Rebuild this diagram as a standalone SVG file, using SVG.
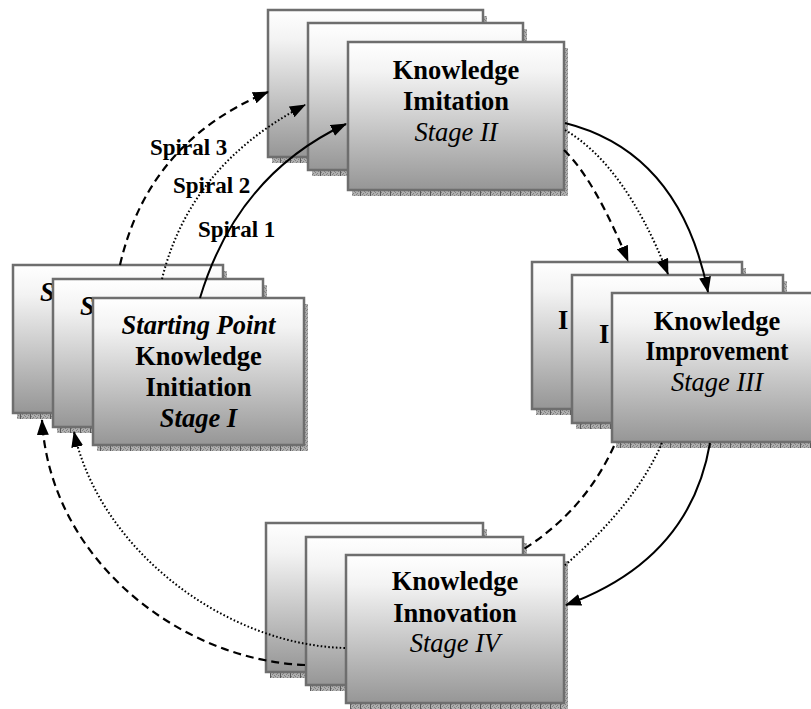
<svg xmlns="http://www.w3.org/2000/svg" width="811" height="709" viewBox="0 0 811 709">
  <defs>
    <linearGradient id="boxFill" x1="0" y1="0" x2="0" y2="1">
      <stop offset="0" stop-color="#ffffff"/>
      <stop offset="0.2" stop-color="#f3f3f3"/>
      <stop offset="1" stop-color="#969696"/>
    </linearGradient>
    <pattern id="shadowTex" width="10" height="4" patternUnits="userSpaceOnUse">
      <rect width="10" height="4" fill="#b0b0b0"/>
      <rect x="1" y="0" width="1" height="1" fill="#808080"/>
      <rect x="3" y="1" width="1" height="1" fill="#808080"/>
      <rect x="5" y="0" width="1" height="1" fill="#808080"/>
      <rect x="7" y="1" width="1" height="1" fill="#808080"/>
      <rect x="2" y="2" width="1" height="1" fill="#808080"/>
      <rect x="6" y="2" width="1" height="1" fill="#808080"/>
      <rect x="4" y="3" width="1" height="1" fill="#808080"/>
      <rect x="8" y="3" width="1" height="1" fill="#808080"/>
      <rect x="0" y="0" width="1" height="4" fill="#5a5a5a"/>
    </pattern>
    <marker id="arrow" viewBox="0 0 16 12" refX="15" refY="6" markerWidth="16" markerHeight="12" markerUnits="userSpaceOnUse" orient="auto">
      <path d="M0,0 L16,6 L0,12 Z" fill="#000"/>
    </marker>
  </defs>
  <style>
    .shadow { fill: url(#shadowTex); }
    .face { fill: url(#boxFill); stroke: #6e6e6e; stroke-width: 2.5; }
    .t { font-family: "Liberation Serif", "Times New Roman", serif; font-size: 26.5px; text-anchor: middle; fill: #000; }
    .s { text-anchor: start; }
    .b { font-weight: bold; }
    .i { font-style: italic; }
    .lbl { font-family: "Liberation Serif", "Times New Roman", serif; font-size: 23px; font-weight: bold; fill: #000; }
    .conn path { fill: none; stroke: #000; }
    .conn .arr { marker-end: url(#arrow); }
    .solid { stroke-width: 2; }
    .dash { stroke-width: 2.2; stroke-dasharray: 8 5; }
    .dot { stroke-width: 2; stroke-dasharray: 1.6 2.2; }
  </style>

  <rect width="811" height="709" fill="#ffffff"/>

  <!-- Stage II stack (top) -->
  <g id="imitation-back">
    <rect class="shadow" x="272" y="16" width="215" height="147"/>
    <rect class="face" x="268" y="10" width="215" height="147"/>
  </g>
  <g id="imitation-middle">
    <rect class="shadow" x="312" y="29" width="215" height="147"/>
    <rect class="face" x="308" y="23" width="215" height="147"/>
  </g>
  <g id="imitation">
    <rect class="shadow" x="352" y="48" width="216" height="148"/>
    <rect class="face" x="348" y="42" width="216" height="148"/>
    <text class="t b" x="456" y="79">Knowledge</text>
    <text class="t b" x="456" y="110">Imitation</text>
    <text class="t i" x="456" y="141">Stage II</text>
  </g>

  <!-- Stage I stack (left) -->
  <g id="initiation-back">
    <rect class="shadow" x="17" y="271" width="210" height="148"/>
    <rect class="face" x="13" y="265" width="210" height="148"/>
    <text class="t b i s" x="40" y="301">S</text>
  </g>
  <g id="initiation-middle">
    <rect class="shadow" x="57" y="285" width="210" height="148"/>
    <rect class="face" x="53" y="279" width="210" height="148"/>
    <text class="t b i s" x="80" y="315">S</text>
  </g>
  <g id="initiation">
    <rect class="shadow" x="97" y="304" width="211" height="147"/>
    <rect class="face" x="93" y="298" width="211" height="147"/>
    <text class="t b i" x="198.5" y="334">Starting Point</text>
    <text class="t b" x="198.5" y="365">Knowledge</text>
    <text class="t b" x="198.5" y="396">Initiation</text>
    <text class="t b i" x="198.5" y="427">Stage I</text>
  </g>

  <!-- Stage III stack (right) -->
  <g id="improvement-back">
    <rect class="shadow" x="536" y="268" width="210" height="147"/>
    <rect class="face" x="532" y="262" width="210" height="147"/>
    <text class="t b s" x="558" y="329">I</text>
  </g>
  <g id="improvement-middle">
    <rect class="shadow" x="576" y="281" width="211" height="148"/>
    <rect class="face" x="572" y="275" width="211" height="148"/>
    <text class="t b s" x="599" y="343">I</text>
  </g>
  <g id="improvement">
    <rect class="shadow" x="616" y="299" width="210" height="149"/>
    <rect class="face" x="612" y="293" width="210" height="149"/>
    <text class="t b" x="717" y="330">Knowledge</text>
    <text class="t b" x="717" y="360" textLength="143" lengthAdjust="spacingAndGlyphs">Improvement</text>
    <text class="t i" x="717" y="391">Stage III</text>
  </g>

  <!-- Stage IV stack (bottom) -->
  <g id="innovation-back">
    <rect class="shadow" x="270" y="529" width="217" height="149"/>
    <rect class="face" x="266" y="523" width="217" height="149"/>
  </g>
  <g id="innovation-middle">
    <rect class="shadow" x="310" y="543" width="217" height="148"/>
    <rect class="face" x="306" y="537" width="217" height="148"/>
  </g>
  <g id="innovation">
    <rect class="shadow" x="350" y="561" width="218" height="148"/>
    <rect class="face" x="346" y="555" width="218" height="148"/>
    <text class="t b" x="455" y="590">Knowledge</text>
    <text class="t b" x="455" y="622">Innovation</text>
    <text class="t i" x="455" y="652">Stage IV</text>
  </g>

  <!-- spiral connectors -->
  <g id="connectors" class="conn">
    <!-- Stage I to Stage II -->
    <path class="solid arr" d="M200,298 Q237,175 346,124"/>
    <path class="dot arr" d="M162,279 Q190,165 305,105"/>
    <path class="dash arr" d="M120,265 Q148,142 268,92"/>
    <!-- Stage II to Stage III -->
    <path class="solid arr" d="M565,123 Q680,152 708,292"/>
    <path class="dot arr" d="M565,130 Q625,165 668,274"/>
    <path class="dash arr" d="M564,150 Q595,180 628,261"/>
    <!-- Stage III to Stage IV -->
    <path class="solid arr" d="M710,443 Q690,560 566,605"/>
    <path class="dot" d="M662,443 Q635,505 564,566"/>
    <path class="dash" d="M614,446 Q585,510 524,549"/>
    <!-- Stage IV back to Stage I -->
    <path class="dot arr" d="M345,648 C225,645 100,550 74,432"/>
    <path class="dash arr" d="M305,665 C180,660 50,560 42,420"/>
  </g>

  <g id="spiral-labels">
    <text class="lbl" x="150" y="155">Spiral 3</text>
    <text class="lbl" x="173" y="193">Spiral 2</text>
    <text class="lbl" x="198" y="237">Spiral 1</text>
  </g>
</svg>
